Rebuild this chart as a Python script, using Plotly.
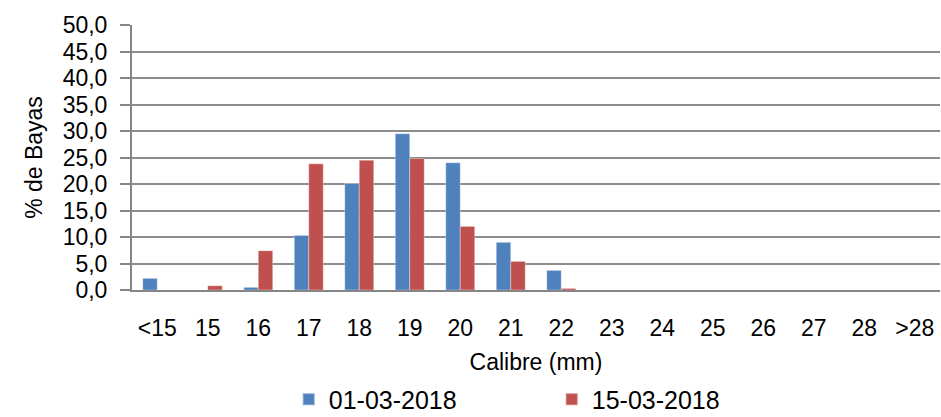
import plotly.graph_objects as go

categories = ["<15", "15", "16", "17", "18", "19", "20", "21", "22", "23", "24", "25", "26", "27", "28", ">28"]
serie_0103 = [2.2, 0.0, 0.5, 10.3, 20.1, 29.5, 24.0, 9.0, 3.7, 0, 0, 0, 0, 0, 0, 0]
serie_1503 = [0.0, 0.8, 7.4, 23.8, 24.5, 24.8, 12.0, 5.4, 0.3, 0, 0, 0, 0, 0, 0, 0]
series_names = ["01-03-2018", "15-03-2018"]
y_tickvals = [0, 5, 10, 15, 20, 25, 30, 35, 40, 45, 50]

FONT = "Liberation Sans, Arial, sans-serif"

fig = go.Figure()
fig.add_trace(go.Bar(x=categories, y=serie_0103, name=series_names[0],
                     marker=dict(color="#4F81BD", line=dict(color="rgba(255,255,255,0.35)", width=1))))
fig.add_trace(go.Bar(x=categories, y=serie_1503, name=series_names[1],
                     marker=dict(color="#C0504D", line=dict(color="rgba(255,255,255,0.35)", width=1))))

fig.update_layout(
    width=941, height=417,
    margin=dict(l=132, r=1, t=25, b=127),
    paper_bgcolor="white", plot_bgcolor="white",
    barmode="group", bargap=0.426, bargroupgap=0,
    separators=",.",
    font=dict(family=FONT, size=23, color="#000000"),
    showlegend=True,
    legend=dict(orientation="h", x=0.194, xanchor="left",
                yref="container", y=0.042, yanchor="middle",
                entrywidth=218, entrywidthmode="pixels", font=dict(size=25),
                itemsizing="constant", bgcolor="rgba(0,0,0,0)"),
    xaxis=dict(
        type="category", showgrid=False, showline=True, linecolor="#868686", linewidth=2,
        ticks="", ticklabelstandoff=16, tickfont=dict(size=23),
        title=dict(text="Calibre (mm)", font=dict(size=23), standoff=14),
        automargin=False,
    ),
    yaxis=dict(
        range=[0, 50], tickvals=y_tickvals, tickformat=".1f",
        showgrid=True, gridcolor="#8C8C8C", gridwidth=1.5,
        showline=True, linecolor="#868686", linewidth=2,
        ticks="outside", ticklen=10, tickcolor="#868686", tickwidth=1.5,
        tickfont=dict(size=23), ticklabelstandoff=8,
        title=dict(text="% de Bayas", font=dict(size=23), standoff=14),
        zeroline=False, automargin=False,
    ),
)

fig.write_html("out.html", config={"displayModeBar": False},
               post_script="document.body.style.margin='0';document.body.style.overflow='hidden';")
